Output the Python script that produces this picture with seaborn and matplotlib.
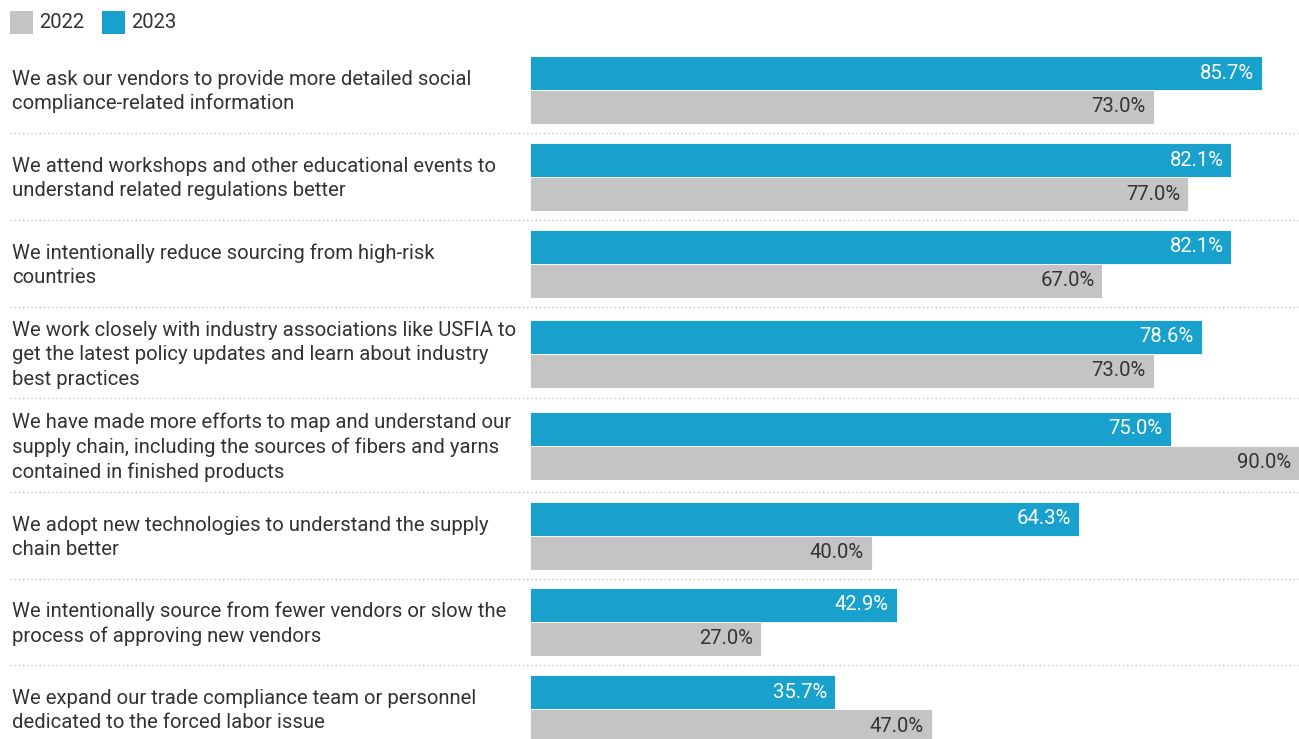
import matplotlib
matplotlib.use("Agg")
import matplotlib.pyplot as plt
import seaborn as sns
import pandas as pd
from matplotlib.lines import Line2D
from matplotlib.patches import Rectangle
from matplotlib.transforms import blended_transform_factory, offset_copy

# ---- data -------------------------------------------------------------
categories = [
    "We ask our vendors to provide more detailed social\ncompliance-related information",
    "We attend workshops and other educational events to\nunderstand related regulations better",
    "We intentionally reduce sourcing from high-risk\ncountries",
    "We work closely with industry associations like USFIA to\nget the latest policy updates and learn about industry\nbest practices",
    "We have made more efforts to map and understand our\nsupply chain, including the sources of fibers and yarns\ncontained in finished products",
    "We adopt new technologies to understand the supply\nchain better",
    "We intentionally source from fewer vendors or slow the\nprocess of approving new vendors",
    "We expand our trade compliance team or personnel\ndedicated to the forced labor issue",
]
years = ["2023", "2022"]
values_2023 = [85.7, 82.1, 82.1, 78.6, 75.0, 64.3, 42.9, 35.7]
values_2022 = [73.0, 77.0, 67.0, 73.0, 90.0, 40.0, 27.0, 47.0]

# ---- style ------------------------------------------------------------
sns.set_theme(style="white")
plt.rcParams["font.family"] = ["Roboto", "DejaVu Sans"]

BLUE = "#18a1cd"
GRAY = "#c4c4c4"
TEXT = "#333333"
palette = {"2023": BLUE, "2022": GRAY}
FS = 14.6

W, H = 1299, 739
fig = plt.figure(figsize=(W / 100, H / 100), dpi=100)

# layout in pixels: top of each bar pair, pair height, separators
group_tops = [56, 143, 230, 319.5, 411.5, 502, 588, 675]
pair_h = 68
separators = [133, 220, 307, 398, 492, 579, 665]
plot_left, plot_right = 530, 1299
label_x = 12

for i, cat in enumerate(categories):
    top = group_tops[i]
    ax = fig.add_axes([plot_left / W, 1 - (top + pair_h) / H,
                       (plot_right - plot_left) / W, pair_h / H])
    df = pd.DataFrame({"year": years,
                       "value": [values_2023[i], values_2022[i]]})
    sns.barplot(data=df, x="value", y="year", hue="year", palette=palette,
                order=years, hue_order=years, orient="h", width=1.0,
                saturation=1, legend=False, linewidth=0.6, edgecolor="white",
                ax=ax)
    ax.set_xlim(0, 90)
    ax.set_ylim(1.5, -0.5)
    ax.axis("off")
    for j, yr in enumerate(years):
        v = df["value"].iloc[j]
        ax.annotate(f"{v:.1f}%", xy=(v, j), xytext=(-8, 0),
                    textcoords="offset pixels", ha="right", va="center",
                    fontsize=FS, color="white" if yr == "2023" else TEXT)
    tr = blended_transform_factory(fig.transFigure, ax.transAxes)
    tr = offset_copy(tr, fig=fig, x=0, y=-1.5, units="dots")
    ax.text(label_x / W, 0.5, cat, transform=tr, ha="left", va="center",
            fontsize=FS, color=TEXT, linespacing=1.34, clip_on=False)

# dotted separators between groups
for y in separators:
    fig.add_artist(Line2D([10 / W, 1.0], [1 - y / H, 1 - y / H],
                          transform=fig.transFigure, color="#c8c8c8",
                          linewidth=1, linestyle=(0, (1, 2))))

# legend: colour swatches with year labels
legend_items = [("2022", GRAY, 10), ("2023", BLUE, 102)]
for label, color, x0 in legend_items:
    fig.add_artist(Rectangle((x0 / W, 1 - 34 / H), 23 / W, 23 / H,
                             transform=fig.transFigure, facecolor=color,
                             edgecolor="none"))
    fig.text((x0 + 29) / W, 1 - 22.5 / H, label, ha="left", va="center",
             fontsize=FS, color=TEXT)

fig.savefig("out.png", dpi=100)
